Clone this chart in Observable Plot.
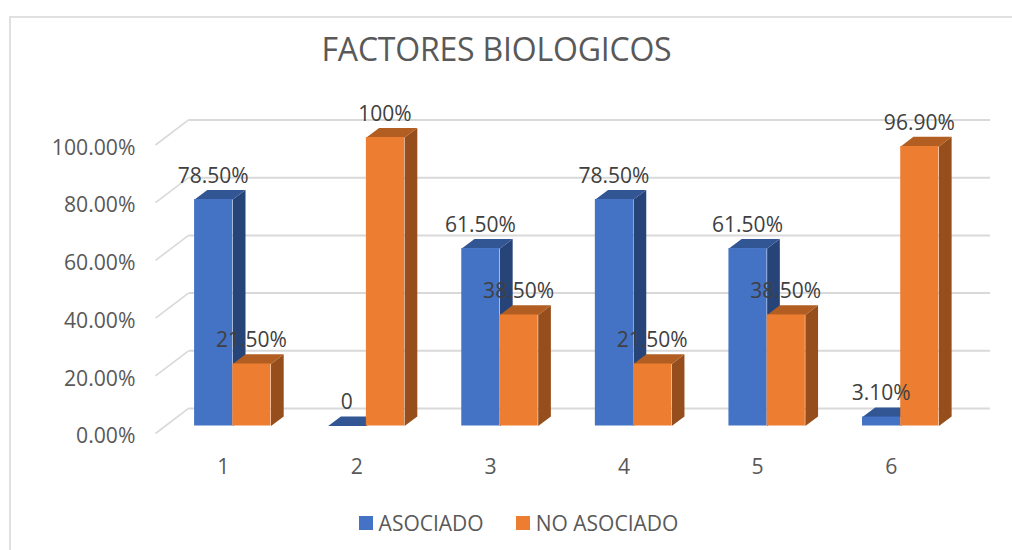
<!DOCTYPE html>
<html lang="es">
<head>
<meta charset="utf-8">
<script src="https://cdn.jsdelivr.net/npm/d3@7"></script>
<script src="https://cdn.jsdelivr.net/npm/@observablehq/plot@0.6"></script>
<style>
  html, body { margin: 0; padding: 0; background: #fff; overflow: hidden; }
  #chart { position: relative; width: 1012px; height: 550px; font-family: "Open Sans", sans-serif; overflow: hidden; }
  #edge { position: absolute; left: 9px; top: 16px; width: 1100px; height: 700px; border: 2px solid #e0e0e0; box-sizing: border-box; }
  #title { position: relative; height: 90px; margin: 0; padding: 0; font-size: 32px; font-weight: 400; color: #595959; text-align: center; line-height: 98px; text-indent: -19px; letter-spacing: -0.2px; }
  #plot, #plot svg { display: block; position: relative; }
  #legend { position: relative; height: 46px; display: flex; justify-content: center; align-items: center; padding-left: 25px; }
  #legend [class$="-swatches"] { margin: 0 !important; min-height: 0 !important; }
  #legend [class$="-swatch"] { margin-right: 32px !important; }
  #legend [class$="-swatch"]:last-child { margin-right: 0 !important; }
  #legend [class$="-swatch"] svg { margin-right: 6px !important; }
</style>
</head>
<body>
<div id="chart">
  <div id="edge"></div>
  <h1 id="title">FACTORES BIOLOGICOS</h1>
  <div id="plot"></div>
  <div id="legend"></div>
</div>
<script>
const categories = [1, 2, 3, 4, 5, 6];
const asociado = [78.5, 0, 61.5, 78.5, 61.5, 3.1];
const noAsociado = [21.5, 100, 38.5, 21.5, 38.5, 96.9];
const asociadoLabels = ["78.50%", "0", "61.50%", "78.50%", "61.50%", "3.10%"];
const noAsociadoLabels = ["21.50%", "100%", "38.50%", "21.50%", "38.50%", "96.90%"];
const yTicks = [0, 20, 40, 60, 80, 100];
const seriesNames = ["ASOCIADO", "NO ASOCIADO"];
const seriesColors = ["#4472C4", "#ED7D31"];
const sideColors = ["#264478", "#964F1C"];
const topColors = ["#325594", "#B25E22"];

// depth of the 3D box, in category units (x) and percent units (y)
const wallDX = 0.2472, wallDY = 8.67;
const barDX = 0.0787, barDY = 2.6;
const faceDX = 0.0951, faceDY = 3.33;
const barW = 0.286;
const xMin = 0.5, xMax = 6.5;

const rows = [];
categories.forEach((c, i) => {
  rows.push({c, s: 0, v: asociado[i], label: asociadoLabels[i], x1: c + barDX - barW, x2: c + barDX});
  rows.push({c, s: 1, v: noAsociado[i], label: noAsociadoLabels[i], x1: c + barDX, x2: c + barDX + barW});
});

function sidePolys(s) {
  return rows.filter(d => d.s === s).flatMap(d => {
    const b = barDY, t = barDY + d.v;
    return [
      {id: d.c, x: d.x2, y: b},
      {id: d.c, x: d.x2 + faceDX, y: b + faceDY},
      {id: d.c, x: d.x2 + faceDX, y: t + faceDY},
      {id: d.c, x: d.x2, y: t}
    ];
  });
}
function topPolys(s) {
  return rows.filter(d => d.s === s).flatMap(d => {
    const t = barDY + d.v;
    return [
      {id: d.c, x: d.x1, y: t},
      {id: d.c, x: d.x2, y: t},
      {id: d.c, x: d.x2 + faceDX, y: t + faceDY},
      {id: d.c, x: d.x1 + faceDX, y: t + faceDY}
    ];
  });
}
function prism(s) {
  return [
    Plot.line(sidePolys(s), {x: "x", y: "y", z: "id", fill: sideColors[s], stroke: "none"}),
    Plot.line(topPolys(s), {x: "x", y: "y", z: "id", fill: topColors[s], stroke: "none"}),
    Plot.rect(rows.filter(d => d.s === s), {x1: "x1", x2: "x2", y1: barDY, y2: d => barDY + d.v, fill: seriesColors[s], inset: 0})
  ];
}

const axisFont = {fontFamily: "'Open Sans', sans-serif", fontSize: 21.2};
const labelFont = {fontFamily: "'Open Sans', sans-serif", fontSize: 21};

const plot = Plot.plot({
  width: 1012,
  height: 410,
  marginLeft: 155,
  marginRight: 56,
  marginTop: 30,
  marginBottom: 67,
  style: {background: "transparent", overflow: "visible"},
  x: {domain: [xMin, xMax], range: [155, 956.5]},
  y: {domain: [0, 313 / 2.885], range: [343, 30]},
  marks: [
    Plot.link(yTicks, {x1: xMin + wallDX, x2: xMax + wallDX, y1: d => d + wallDY, y2: d => d + wallDY, stroke: "#D9D9D9", strokeWidth: 2}),
    Plot.link(yTicks, {x1: xMin, x2: xMin + wallDX, y1: d => d, y2: d => d + wallDY, stroke: "#D9D9D9", strokeWidth: 1.6}),
    Plot.axisY({ticks: yTicks, tickSize: 0, tickPadding: 20, tickFormat: d => d.toFixed(2) + "%", label: null, color: "#595959", dy: 3, ...axisFont}),
    Plot.axisX({ticks: categories, tickSize: 0, tickPadding: 25, dx: 1, tickFormat: d => String(d), label: null, color: "#595959", ...axisFont}),
    ...prism(0),
    ...prism(1),
    Plot.text(rows, {x: d => (d.x1 + d.x2) / 2, y: d => barDY + d.v, text: "label", dy: -23.5, dx: -0.5, fill: "#404040", ...labelFont})
  ]
});
document.getElementById("plot").append(plot);

const legend = Plot.legend({
  color: {domain: seriesNames, range: seriesColors},
  swatchSize: 14,
  style: {fontFamily: "'Open Sans', sans-serif", fontSize: "21px", color: "#595959", margin: 0}
});
document.getElementById("legend").append(legend);
</script>
</body>
</html>
